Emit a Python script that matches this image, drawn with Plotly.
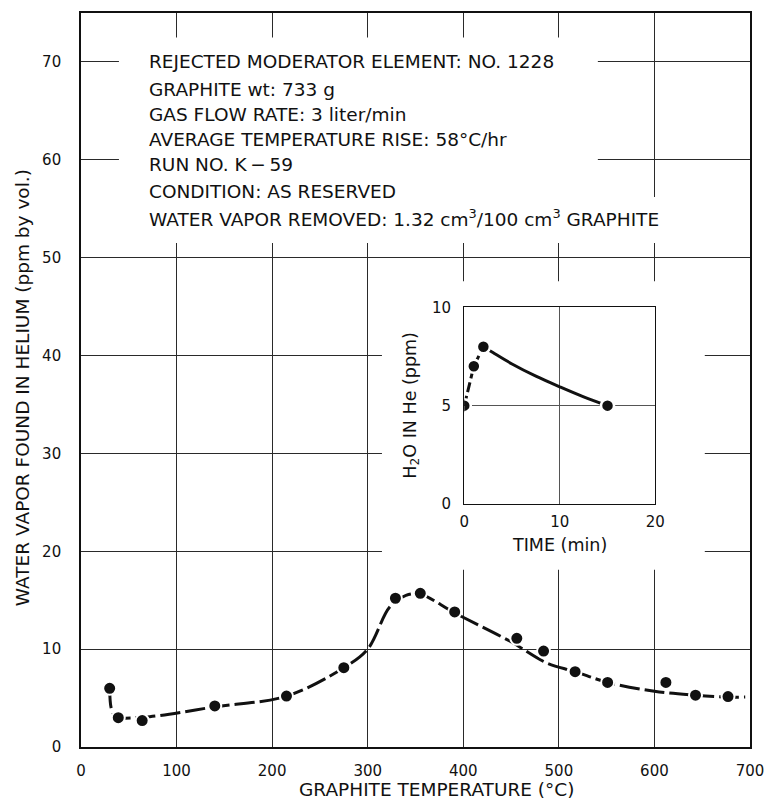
import plotly.graph_objects as go

# ---- main run: water vapour released while heating the graphite ----
temp_c = [30, 39, 64, 140, 215, 275, 329, 355, 391, 456, 484, 517, 551, 612, 643, 677]
water_ppm = [6.0, 3.0, 2.7, 4.2, 5.2, 8.1, 15.2, 15.7, 13.8, 11.1, 9.8, 7.7, 6.6, 6.6, 5.3, 5.15]

# faired curve drawn through the run
fair_temp = [30, 31.5, 35, 39, 72, 140, 215, 275, 300, 323, 340, 355, 391, 449, 487, 517, 551, 600, 643, 677, 695]
fair_ppm = [6.0, 4.0, 3.2, 3.0, 3.1, 4.1, 5.2, 8.1, 10.0, 14.3, 15.5, 15.6, 13.7, 10.8, 8.6, 7.7, 6.6, 5.7, 5.3, 5.1, 5.1]

# ---- inset: H2O in He versus time at the start of the run ----
time_min = [0, 1, 2, 15]
h2o_ppm = [5, 7, 8, 5]
rise_time = [0, 1, 2]
rise_h2o = [5, 7, 8]
decay_time = [2, 3, 5, 7.5, 10, 12.5, 15]
decay_h2o = [8, 7.7, 7.12, 6.5, 5.96, 5.45, 5.0]

x_ticks = [0, 100, 200, 300, 400, 500, 600, 700]
y_ticks = [0, 10, 20, 30, 40, 50, 60, 70]
inset_x_ticks = [0, 10, 20]
inset_y_ticks = [0, 5, 10]

notes = [
    "REJECTED MODERATOR ELEMENT: NO. 1228",
    "GRAPHITE wt: 733 g",
    "GAS FLOW RATE: 3 liter/min",
    "AVERAGE TEMPERATURE RISE: 58°C/hr",
    "RUN NO. K\u2009\u2212\u200959",
    "CONDITION: AS RESERVED",
    "WATER VAPOR REMOVED: 1.32 cm<sup>3</sup>/100 cm<sup>3</sup> GRAPHITE",
]
note_y = [70, 67.2, 64.6, 62.1, 59.5, 56.8, 54.1]

FONT = "DejaVu Sans"
INK = "#111111"

fig = go.Figure()

fig.add_trace(go.Scatter(
    x=fair_temp, y=fair_ppm, mode="lines",
    line=dict(color=INK, width=3, shape="spline", smoothing=1.0, dash="20px,5px"),
    hoverinfo="skip", showlegend=False,
))
fig.add_trace(go.Scatter(
    x=temp_c, y=water_ppm, mode="markers",
    marker=dict(size=13, color=INK, line=dict(color="white", width=2)),
    showlegend=False,
))

fig.add_trace(go.Scatter(
    x=rise_time, y=rise_h2o, mode="lines", xaxis="x2", yaxis="y2",
    line=dict(color=INK, width=3, dash="10px,4px"),
    hoverinfo="skip", showlegend=False,
))
fig.add_trace(go.Scatter(
    x=decay_time, y=decay_h2o, mode="lines", xaxis="x2", yaxis="y2",
    line=dict(color=INK, width=3, shape="spline", smoothing=1.0),
    hoverinfo="skip", showlegend=False,
))
fig.add_trace(go.Scatter(
    x=time_min, y=h2o_ppm, mode="markers", xaxis="x2", yaxis="y2",
    marker=dict(size=13, color=INK, line=dict(color="white", width=2.5)),
    showlegend=False,
))


def axis_style(grid, width, standoff):
    return dict(
        showgrid=True, gridcolor=grid, gridwidth=1,
        showline=True, linecolor=INK, linewidth=width, mirror=True,
        ticks="", zeroline=False, automargin=False,
        ticklabelstandoff=standoff,
        tickfont=dict(family=FONT, size=15, color=INK),
    )


fig.update_layout(
    template="none",
    width=771, height=804,
    margin=dict(l=81, r=21, t=13, b=57, pad=0),
    paper_bgcolor="white", plot_bgcolor="white",
    font=dict(family=FONT, color=INK),
    showlegend=False,
    xaxis=dict(range=[0, 700], tickvals=x_ticks, **axis_style("#2a2a2a", 1.6, 9)),
    yaxis=dict(range=[0, 75], tickvals=y_ticks, **axis_style("#2a2a2a", 1.6, 15)),
    xaxis2=dict(domain=[0.5729, 0.8584], anchor="y2", range=[0, 20], tickvals=inset_x_ticks,
                **axis_style("#555555", 1.4, 4)),
    yaxis2=dict(domain=[0.3311, 0.599], anchor="x2", range=[0, 10], tickvals=inset_y_ticks,
                **axis_style("#555555", 1.4, 9)),
)

# white panels behind the notes and the inset, above the grid
panel = dict(type="rect", xref="x", yref="y", fillcolor="white", line=dict(width=0), layer="between")
fig.add_shape(x0=39.7, x1=540.8, y0=51.5, y1=72.5, **panel)
fig.add_shape(x0=540.8, x1=637, y0=51.5, y1=56.2, **panel)
fig.add_shape(x0=314.9, x1=652.7, y0=18.1, y1=47.6, **panel)

for text, yv in zip(notes, note_y):
    fig.add_annotation(x=68.7, y=yv, xref="x", yref="y", text=text, showarrow=False,
                       xanchor="left", yanchor="middle",
                       font=dict(family=FONT, size=18.5, color=INK))

title_font = dict(family=FONT, size=18.5, color=INK)
fig.add_annotation(x=0.531, y=-0.058, xref="paper", yref="paper",
                   text="GRAPHITE TEMPERATURE (°C)", showarrow=False,
                   xanchor="center", yanchor="middle", font=title_font)
fig.add_annotation(x=-0.088, y=0.489, xref="paper", yref="paper",
                   text="WATER VAPOR FOUND IN HELIUM (ppm by vol.)", showarrow=False,
                   textangle=-90, xanchor="center", yanchor="middle", font=title_font)
fig.add_annotation(x=0.7145, y=0.275, xref="paper", yref="paper",
                   text="TIME (min)", showarrow=False,
                   xanchor="center", yanchor="middle", font=dict(family=FONT, size=17.5, color=INK))
fig.add_annotation(x=0.4943, y=0.466, xref="paper", yref="paper",
                   text="H<sub>2</sub>O IN He (ppm)", showarrow=False,
                   textangle=-90, xanchor="center", yanchor="middle", font=dict(family=FONT, size=17.5, color=INK))

fig.write_html("out.html")
